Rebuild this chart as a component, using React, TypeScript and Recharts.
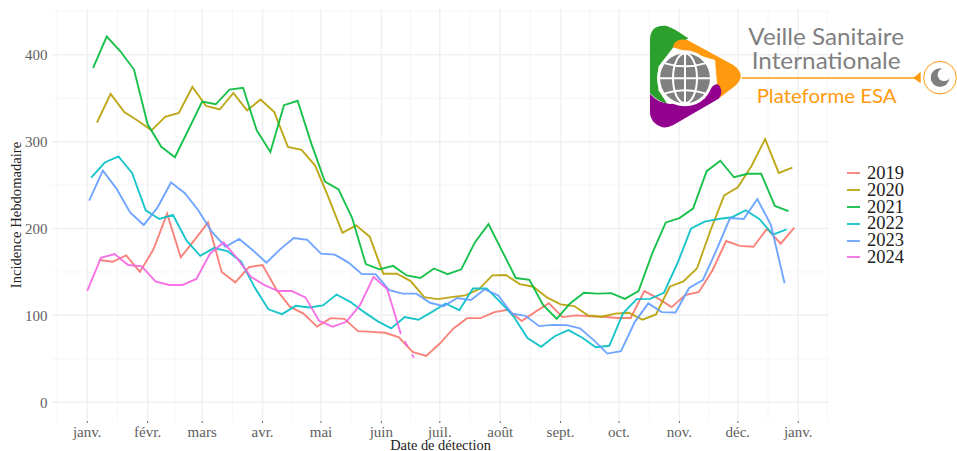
import React from 'react';
import { LineChart, Line, XAxis, YAxis, CartesianGrid, Legend } from 'recharts';

const FONT = '"Liberation Serif", "Times New Roman", serif';

const monthTicks = [0, 31, 59, 90, 120, 151, 181, 212, 243, 273, 304, 334, 365];
const monthLabels = ['janv.', 'févr.', 'mars', 'avr.', 'mai', 'juin', 'juil.', 'août', 'sept.', 'oct.', 'nov.', 'déc.', 'janv.'];
const minorDays = [-15.5, 15.5, 45, 74.5, 105, 135.5, 166, 196.5, 227.5, 258, 288.5, 319, 349.5, 380];
const valueTicks = [0, 100, 200, 300, 400];
const minorValues = [50, 150, 250, 350, 450];

const values2019 = [163.7, 161.7, 169, 150, 176, 217, 166.8, 186.7, 207, 150, 138, 155.6, 158, 130, 110, 102, 87, 96.8, 96, 81.8, 81, 80, 74.6, 58, 53.4, 67.6, 85, 96.8, 96.8, 103.7, 106.4, 93.4, 104, 114, 98, 100, 98.8, 98.4, 97, 97, 128, 119.5, 109.5, 123.4, 127, 152, 185.6, 180, 179, 199.8, 182.5, 201];
const values2020 = [322, 355, 334, 324, 313, 328.5, 333, 363, 341, 337, 356, 336, 348.5, 334, 294, 290.5, 272.5, 235, 195, 203.6, 190.6, 148, 148, 139.5, 121, 118.7, 121, 123, 130, 146, 146.4, 136, 133, 120.7, 112.6, 110.7, 100, 98.4, 102, 103, 95, 101, 133, 139, 154, 198, 238, 247.5, 272, 303, 264, 270];
const values2021 = [385, 421, 404, 383, 320, 294, 282, 314, 346, 343, 360, 362, 313, 288, 342, 347, 298, 254, 245, 212, 159, 153, 157, 146, 143, 154, 147.5, 153, 184, 205, 174, 143, 141, 112, 96, 114, 126, 125, 125.6, 119, 128, 171, 207, 212, 223, 266, 278, 259, 263, 263, 226, 220];
const values2022 = [258.6, 276, 283, 264, 221, 211, 215.6, 186, 168.6, 177.5, 174, 161.8, 132, 107, 101.4, 111, 109, 111.4, 124, 115.6, 104, 93.4, 85, 98, 95, 104, 113.7, 106, 131, 131, 115.6, 98.4, 74, 63.8, 76, 83, 74.5, 63.4, 65, 102, 118.7, 119, 126, 160, 200, 208, 211, 213, 221, 211, 193, 199];
const values2023 = [232, 266.6, 246, 218.6, 204, 224, 253, 241, 221, 196, 179, 188, 175, 160.6, 176, 189, 187, 171, 170, 161, 147.5, 147.5, 129, 125, 125, 114.5, 110.6, 120, 117.6, 130, 123, 102, 99.5, 87.6, 89, 88.8, 85, 71.5, 56, 58.8, 92, 113.8, 103.7, 103.4, 131.5, 140.6, 175, 212, 211, 234, 204, 137];
const values2024 = [128.3, 166.3, 170.6, 158, 156.4, 139, 135, 135, 142, 171, 184, 165.6, 144.5, 134.9, 128, 128, 120.7, 93.7, 87, 92.6, 111.8, 144.5, 130, 78.4];
const values2024Tail = [78.4, 50];

const weekRows = (firstDay: number, values: number[]) =>
  values.map((value, i) => ({ day: firstDay + i * 7, value }));

const series = [
  { name: '2019', color: '#F8766D', rows: weekRows(6, values2019) },
  { name: '2020', color: '#B79F00', rows: weekRows(5, values2020) },
  { name: '2021', color: '#00BA38', rows: weekRows(3, values2021) },
  { name: '2022', color: '#00BFC4', rows: weekRows(2, values2022) },
  { name: '2023', color: '#619CFF', rows: weekRows(1, values2023) },
  { name: '2024', color: '#F564E3', rows: weekRows(0, values2024) },
];
const tailRows = weekRows(161, values2024Tail);

const LegendBox = ({ payload }: any) => (
  <div style={{ fontFamily: FONT }}>
    {(payload || [])
      .filter((p: any) => p.type !== 'none')
      .map((p: any) => (
        <div key={p.value} style={{ display: 'flex', alignItems: 'center', height: 16.8 }}>
          <span style={{ display: 'inline-block', width: 13, height: 2, background: p.color, opacity: 0.85, marginRight: 7 }} />
          <span style={{ fontSize: 18.5, color: '#222', lineHeight: '16.8px' }}>{p.value}</span>
        </div>
      ))}
  </div>
);

const Logo = () => (
  <svg
    width={327}
    height={130}
    viewBox="0 0 981 390"
    style={{ position: 'absolute', left: 630, top: 10, pointerEvents: 'none' }}
  >
    <path d="M60,90 Q60,45 105,47 Q122,48 175,85 L130,112 L85,170 L85,240 L112,282 Q80,272 60,250 Z" fill="#2CA02C" />
    <path d="M128,112 Q135,82 172,90 L310,165 Q352,195 315,228 L265,266 L255,150 Z" fill="#FF9A0E" />
    <path d="M60,252 Q85,280 120,282 Q175,280 230,250 Q262,205 272,235 Q278,252 266,266 L130,345 Q100,362 75,340 Q58,325 60,300 Z" fill="#92008E" />
    <circle cx={165} cy={205} r={84} fill="#fff" />
    <circle cx={165} cy={205} r={75} fill="#808080" />
    <g fill="none" stroke="#fff" strokeWidth={6}>
      <ellipse cx={165} cy={205} rx={36} ry={75} />
      <line x1={165} y1={130} x2={165} y2={280} />
      <line x1={90} y1={205} x2={240} y2={205} />
      <path d="M105,160 Q165,178 225,160" />
      <path d="M105,250 Q165,232 225,250" />
    </g>
    <line x1={335} y1={204} x2={860} y2={204} stroke="#FF9A0E" strokeWidth={5} />
    <path d="M850,204 L872,185 L872,220 Z" fill="#FF9A0E" />
    <circle cx={930} cy={203} r={49} fill="#fff" stroke="#FF9A0E" strokeWidth={3} />
    <circle cx={930} cy={203} r={28} fill="#808080" />
    <circle cx={942} cy={194} r={19} fill="#fff" />
    <g fontFamily='Lato, "Open Sans", sans-serif'>
      <text x={355} y={105} fontSize={70} fill="#808080" textLength={467} lengthAdjust="spacingAndGlyphs">Veille Sanitaire</text>
      <text x={365} y={178} fontSize={70} fill="#808080" textLength={447} lengthAdjust="spacingAndGlyphs">Internationale</text>
      <text x={380} y={278} fontSize={56} fill="#FF9A0E" textLength={420} lengthAdjust="spacingAndGlyphs">Plateforme ESA</text>
    </g>
  </svg>
);

export default function App() {
  return (
    <div style={{ position: 'absolute', left: 0, top: 0, width: 957, height: 451, background: '#fff' }}>
      <LineChart width={957} height={451} margin={{ top: 9, right: 58, bottom: 0, left: 0 }}>
        <CartesianGrid stroke="#f6f6f6" strokeWidth={1} verticalValues={minorDays} horizontalValues={minorValues} />
        <CartesianGrid stroke="#f0f0f0" strokeWidth={1.5} verticalValues={monthTicks} horizontalValues={valueTicks} />
        <XAxis
          dataKey="day"
          type="number"
          domain={[-18.1, 380.8]}
          ticks={monthTicks}
          interval={0}
          allowDuplicatedCategory={false}
          tickFormatter={(d: number, i: number) => monthLabels[i]}
          axisLine={false}
          tickSize={2}
          tickMargin={3}
          tickLine={{ stroke: '#666' }}
          tick={{ fontFamily: FONT, fontSize: 15, fill: '#606060' }}
          height={30}
          label={{ value: 'Date de détection', position: 'insideBottom', offset: 0, dy: -1, style: { fontFamily: FONT, fontSize: 14.4, fill: '#222' } }}
        />
        <YAxis
          type="number"
          domain={[-21.6, 452.7]}
          ticks={valueTicks}
          interval={0}
          width={52}
          axisLine={false}
          tickLine={false}
          tickSize={0}
          tickMargin={4.5}
          tick={{ fontFamily: FONT, fontSize: 15, fill: '#606060' }}
          label={{ value: 'Incidence Hebdomadaire', angle: -90, position: 'insideLeft', offset: 0, dx: 16, style: { fontFamily: FONT, fontSize: 14.6, fill: '#222', textAnchor: 'middle' } }}
        />
        {series.map((s) => (
          <Line
            key={s.name}
            data={s.rows}
            dataKey="value"
            name={s.name}
            stroke={s.color}
            strokeWidth={1.9}
            strokeOpacity={0.9}
            dot={false}
            activeDot={false}
            isAnimationActive={false}
          />
        ))}
        <Line
          data={tailRows}
          dataKey="value"
          name="2024 fin"
          legendType="none"
          stroke="#F564E3"
          strokeWidth={1.9}
          strokeOpacity={0.9}
          strokeDasharray="0 8 6 9 4 99"
          dot={false}
          activeDot={false}
          isAnimationActive={false}
        />
        <Legend
          layout="vertical"
          align="right"
          verticalAlign="top"
          content={<LegendBox />}
          wrapperStyle={{ position: 'absolute', left: 847, top: 165, width: 70, right: 'auto' }}
        />
      </LineChart>
      <Logo />
    </div>
  );
}
